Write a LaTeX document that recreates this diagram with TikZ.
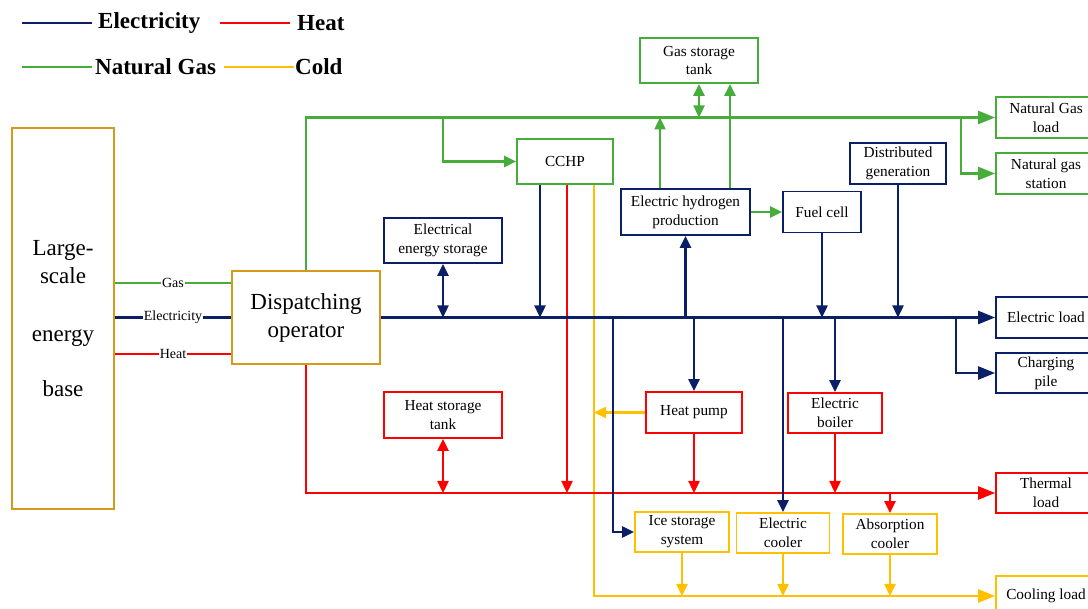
\documentclass[tikz,border=0pt]{standalone}
\usepackage{fontspec}
\setmainfont{Liberation Serif}
\usetikzlibrary{arrows.meta}

\definecolor{elecblue}{HTML}{0B1F66}
\definecolor{heatred}{HTML}{FF0000}
\definecolor{gasgreen}{HTML}{46AD3A}
\definecolor{coldgold}{HTML}{FFC000}
\definecolor{baseorange}{HTML}{D49A1C}

\tikzset{
  elec/.style={elecblue, line width=2.4pt},
  heat/.style={heatred, line width=2.4pt},
  gas/.style={gasgreen, line width=2.4pt},
  cold/.style={coldgold, line width=2.4pt},
  loadtip/.style={-{Triangle[length=17pt,width=13pt]}},
  box/.style={draw, rectangle, line width=1.8pt, inner sep=0pt, fill=white,
    align=center, text=black, font=\fontsize{15.3}{18.8}\selectfont},
  elecbox/.style={box, draw=elecblue},
  heatbox/.style={box, draw=heatred},
  gasbox/.style={box, draw=gasgreen},
  coldbox/.style={box, draw=coldgold},
  mainbox/.style={draw=baseorange, rectangle, line width=2.8pt, inner sep=0pt,
    align=center, font=\fontsize{23}{28}\selectfont},
  flowlabel/.style={fill=white, inner sep=1pt, text=black, font=\fontsize{14}{16}\selectfont},
  legendtext/.style={anchor=west, inner sep=3pt, text=black, font=\fontsize{23}{28}\selectfont\bfseries}
}

\begin{document}
\begin{tikzpicture}[x=1pt, y=-1pt, >={Triangle[length=12pt,width=11pt]}]
\useasboundingbox (0,0) rectangle (1088,609);

% legend
\draw[elec] (22,23) -- ++(70,0) node[legendtext, inner sep=5pt] (legelec) {Electricity};
\draw[heat] (220,23) -- ++(70,0) node[legendtext, inner sep=6pt] (legheat) {Heat};
\draw[gas] (22,67) -- ++(70,0) node[legendtext, inner sep=2pt] (leggas) {Natural Gas};
\draw[cold] (224,67) -- ++(70,0) node[legendtext, inner sep=0pt] (legcold) {Cold};

% main boxes
\node[mainbox, minimum width=102pt, minimum height=381pt] (base) at (63,318.5)
  {Large-\\scale\\[30pt]energy\\[27pt]base};
\node[mainbox, minimum width=148pt, minimum height=93pt] (disp) at (306,317.5)
  {Dispatching\\operator};

% devices
\node[gasbox, minimum width=118pt, minimum height=45pt] (gst) at (699,60.5) {Gas storage\\tank};
\node[gasbox, minimum width=96pt, minimum height=45pt] (cchp) at (565,161.5) {CCHP};
\node[elecbox, minimum width=129pt, minimum height=46pt] (ehp) at (685.5,212) {Electric hydrogen\\production};
\node[elecbox, minimum width=78pt, minimum height=41pt] (fc) at (822,212) {Fuel cell};
\node[elecbox, minimum width=96pt, minimum height=41pt] (dg) at (898,163.5) {Distributed\\generation};
\node[elecbox, minimum width=118pt, minimum height=45pt] (ees) at (443,240.5) {Electrical\\energy storage};
\node[heatbox, minimum width=118pt, minimum height=46pt] (hst) at (443,415) {Heat storage\\tank};
\node[heatbox, minimum width=96pt, minimum height=41pt] (hp) at (694,412.5) {Heat pump};
\node[heatbox, minimum width=94pt, minimum height=40pt] (eb) at (835,413) {Electric\\boiler};
\node[coldbox, minimum width=94pt, minimum height=40pt] (iss) at (682,532) {Ice storage\\system};
\node[coldbox, minimum width=93pt, minimum height=40pt] (ec) at (783,533) {Electric\\cooler};
\node[coldbox, minimum width=94pt, minimum height=40pt] (ac) at (890,534) {Absorption\\cooler};

% loads
\node[gasbox, minimum width=100pt, minimum height=41pt] (ngl) at (1046,117.5) {Natural Gas\\load};
\node[gasbox, minimum width=100pt, minimum height=41pt] (ngs) at (1046,173.5) {Natural gas\\station};
\node[elecbox, minimum width=100pt, minimum height=41pt] (el) at (1046,317.5) {Electric load};
\node[elecbox, minimum width=100pt, minimum height=40pt] (cp) at (1046,373) {Charging\\pile};
\node[heatbox, minimum width=100pt, minimum height=40pt] (tl) at (1046,493) {Thermal\\load};
\node[coldbox, minimum width=100pt, minimum height=40pt] (cl) at (1046,596) {Cooling load};

% supply from the energy base
\coordinate (gasin) at ([yshift=34.5pt]disp.west);
\coordinate (heatin) at ([yshift=-36.5pt]disp.west);
\draw[gas] (gasin -| base.east) -- node[flowlabel] (lgas) {Gas} (gasin);
\draw[elec] (disp.west -| base.east) -- node[flowlabel] (lelec) {Electricity} (disp.west);
\draw[heat] (heatin -| base.east) -- node[flowlabel] (lheat) {Heat} (heatin);

% natural gas
\draw[gas,loadtip] (disp.north) |- (ngl.west);
\draw[gas,->] (ees.north |- ngl.west) |- (cchp.west);
\coordinate (gj) at ([xshift=-34pt]ngl.west);
\draw[gas,loadtip] (gj) |- (ngs.west);
\draw[gas,<->] (gst.south) -- (gst.south |- ngl.west);
\coordinate (h2a) at ([xshift=-25.5pt]ehp.north);
\coordinate (h2b) at ([xshift=44.5pt]ehp.north);
\draw[gas,->] (h2a) -- (h2a |- ngl.west);
\draw[gas,->] (h2b) -- (h2b |- gst.south);
\draw[gas,->] (ehp.east) -- (fc.west);

% cold
\coordinate (cc) at ([xshift=29pt]cchp.south);
\draw[cold,loadtip] (cc) |- (cl.west);
\draw[cold,->] (hp.west) -- (hp.west -| cc);
\draw[cold,->] (iss.south) -- (iss.south |- cl.west);
\draw[cold,->] (ec.south) -- (ec.south |- cl.west);
\draw[cold,->] (ac.south) -- (ac.south |- cl.west);

% heat
\draw[heat,loadtip] (disp.south) |- (tl.west);
\draw[heat,<->] (hst.south) -- (hst.south |- tl.west);
\coordinate (ch) at ([xshift=2pt]cchp.south);
\draw[heat,->] (ch) -- (ch |- tl.west);
\draw[heat,->] (hp.south) -- (hp.south |- tl.west);
\draw[heat,->] (eb.south) -- (eb.south |- tl.west);
\draw[heat,->] (ac.north |- tl.west) -- (ac.north);

% electricity
\draw[elec,loadtip] (disp.east) -- (el.west);
\draw[elec,<->] (ees.south) -- (ees.south |- el.west);
\coordinate (ce) at ([xshift=-25pt]cchp.south);
\draw[elec,->] (ce) -- (ce |- el.west);
\draw[elec,->] (ehp.south |- el.west) -- (ehp.south);
\coordinate (ej) at ([xshift=-21pt]iss.west);
\draw[elec,->] (ej |- el.west) |- (iss.west);
\draw[elec,->] (hp.north |- el.west) -- (hp.north);
\draw[elec,->] (ec.north |- el.west) -- (ec.north);
\draw[elec,->] (fc.south) -- (fc.south |- el.west);
\draw[elec,->] (eb.north |- el.west) -- (eb.north);
\draw[elec,->] (dg.south) -- (dg.south |- el.west);
\coordinate (cj) at ([xshift=-39pt]el.west);
\draw[elec,loadtip] (cj) |- (cp.west);
\end{tikzpicture}
\end{document}
